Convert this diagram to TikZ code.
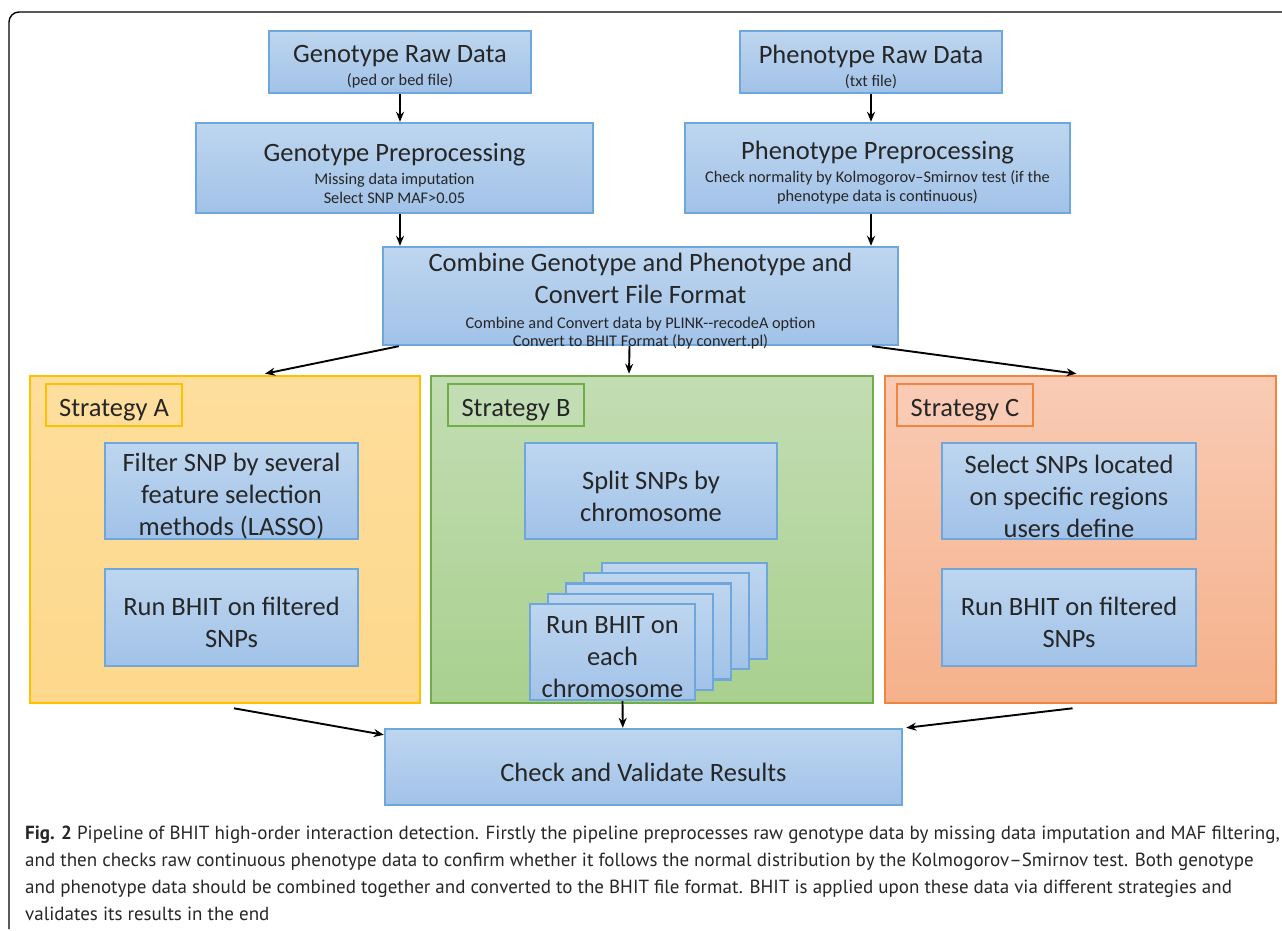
\documentclass[tikz,border=0pt]{standalone}
\usepackage{fontspec}
\setmainfont{Carlito}
\newfontfamily\capfont[Ligatures=TeX]{PT Sans}
\usetikzlibrary{calc,arrows.meta}
\definecolor{bluetop}{HTML}{BED6EF}
\definecolor{bluebot}{HTML}{A1C2E8}
\definecolor{blueedge}{HTML}{6FA6DC}
\definecolor{atop}{HTML}{FEDE9C}
\definecolor{abot}{HTML}{FDD88C}
\definecolor{aedge}{HTML}{FFC000}
\definecolor{btop}{HTML}{C2DDB3}
\definecolor{bbot}{HTML}{A9D08F}
\definecolor{bedge}{HTML}{70AD47}
\definecolor{ctop}{HTML}{F9CBB5}
\definecolor{cbot}{HTML}{F5B18B}
\definecolor{cedge}{HTML}{F0853D}
\newcommand{\bigf}{\fontsize{26.5}{32}\selectfont}
\newcommand{\smf}{\fontsize{16.3}{19}\selectfont}
\begin{document}
\begin{tikzpicture}[x=1pt,y=-1pt,
  bluebox/.style={draw=blueedge, line width=2.4pt, top color=bluetop, bottom color=bluebot, inner sep=0pt},
  tx/.style={font=\bigf, align=center, text=black!85, inner sep=0pt, yshift=-5pt},
  strat/.style={line width=2.6pt, inner sep=0pt},
  lab/.style={line width=2.6pt, inner sep=0pt, minimum width=136, minimum height=42},
  arr/.style={-{Stealth[length=10pt,width=8pt]}, line width=1.9pt},
  capline/.style={anchor=base west, inner sep=0pt, text=black!85, font={\capfont\fontsize{19pt}{24pt}\selectfont}}]
\useasboundingbox (0,0) rectangle (1282,931);
\draw[line width=1.4pt, rounded corners=10pt] (1295,12) -- (9,12) -- (9,929);

% top boxes
\node[bluebox, minimum width=262, minimum height=62,
  label={[tx]center:{Genotype Raw Data\\[-9pt]{\smf (ped or bed file)}}}] (graw) at (400,62) {};
\node[bluebox, minimum width=262, minimum height=62,
  label={[tx]center:{Phenotype Raw Data\\[-9pt]{\smf (txt file)}}}] (praw) at (871,62) {};
\node[bluebox, minimum width=397, minimum height=90,
  label={[tx]center:{Genotype Preprocessing\\[-9pt]{\smf Missing data imputation}\\[-13pt]{\smf Select SNP MAF>0.05}}}] (gpre) at (394.5,168) {};
\node[bluebox, minimum width=385, minimum height=90,
  label={[tx]center:{Phenotype Preprocessing\\[-9pt]{\smf Check normality by Kolmogorov--Smirnov test (if the}\\[-13pt]{\smf phenotype data is continuous)}}}] (ppre) at (877.5,168) {};
\node[bluebox, minimum width=515, minimum height=98,
  label={[tx]center:{Combine Genotype and Phenotype and\\Convert File Format\\[-7pt]{\smf Combine and Convert data by PLINK{-}{-}recodeA option}\\[-14pt]{\smf Convert to BHIT Format (by convert.pl)}}}] (comb) at (640.5,296) {};

% strategy panels
\node[strat, draw=aedge, top color=atop, bottom color=abot, minimum width=390, minimum height=327] (stA) at (225,539.5) {};
\node[strat, draw=bedge, top color=btop, bottom color=bbot, minimum width=442, minimum height=327] (stB) at (652,539.5) {};
\node[strat, draw=cedge, top color=ctop, bottom color=cbot, minimum width=391, minimum height=327] (stC) at (1080.5,539.5) {};

\node[lab, draw=aedge, fill=atop, label={[tx]center:Strategy A}] (labA) at (114,405) {};
\node[lab, draw=bedge, fill=btop, label={[tx]center:Strategy B}] (labB) at (516,405) {};
\node[lab, draw=cedge, fill=ctop, label={[tx]center:Strategy C}] (labC) at (965,405) {};

\node[bluebox, minimum width=253, minimum height=96,
  label={[tx]center:{Filter SNP by several\\feature selection\\methods (LASSO)}}] (filt) at (231.5,491) {};
\node[bluebox, minimum width=253, minimum height=97,
  label={[tx]center:{Run BHIT on filtered\\SNPs}}] (runA) at (231.5,617.5) {};
\node[bluebox, minimum width=252, minimum height=96,
  label={[tx]center:{Split SNPs by\\chromosome}}] (split) at (651,491) {};
\foreach \i in {4,3,2,1} {
  \node[bluebox, minimum width=165, minimum height=96] (lay\i) at ({612.5+18*\i},{652-10.25*\i}) {};
}
\node[bluebox, minimum width=165, minimum height=96,
  label={[tx]center:{Run BHIT on\\each\\chromosome}}] (runB) at (612.5,652) {};
\node[bluebox, minimum width=254, minimum height=96,
  label={[tx]center:{Select SNPs located\\on specific regions\\users define}}] (sel) at (1069,491) {};
\node[bluebox, minimum width=254, minimum height=97,
  label={[tx]center:{Run BHIT on filtered\\SNPs}}] (runC) at (1069,617.5) {};

\node[bluebox, minimum width=517, minimum height=76,
  label={[tx]center:{Check and Validate Results}}] (check) at (643.5,767) {};

% arrows
\draw[arr] (graw.south) -- (graw.south |- gpre.north);
\draw[arr] (praw.south) -- (praw.south |- ppre.north);
\draw[arr] (graw.south |- gpre.south) -- (graw.south |- comb.north);
\draw[arr] (praw.south |- ppre.south) -- (praw.south |- comb.north);
\draw[arr] ($(comb.south west)+(17,0)$) -- ($(stA.north)+(40,-1)$);
\draw[arr] ($(comb.south)+(-11,0)$) -- ($(stB.north)+(-23,-1)$);
\draw[arr] ($(comb.south east)+(-27,0)$) -- ($(stC.north)+(-4,-1)$);
\draw[arr] ($(stA.south)+(9,4)$) -- ($(check.north west)+(0,7)$);
\draw[arr] ($(runB.south)+(10,0)$) -- ($(check.north west)+(239,0)$);
\draw[arr] ($(stC.south)+(-8,4)$) -- ($(check.north east)+(3,0)$);

% caption
\node[capline] (cap1) at (25,839) {\textbf{Fig. 2} Pipeline of BHIT high-order interaction detection. Firstly the pipeline preprocesses raw genotype data by missing data imputation and MAF filtering,};
\node[capline] (cap2) at (25,866) {and then checks raw continuous phenotype data to confirm whether it follows the normal distribution by the Kolmogorov--Smirnov test. Both genotype};
\node[capline] (cap3) at (25,893) {and phenotype data should be combined together and converted to the BHIT file format. BHIT is applied upon these data via different strategies and};
\node[capline] (cap4) at (25,920) {validates its results in the end};
\end{tikzpicture}
\end{document}
